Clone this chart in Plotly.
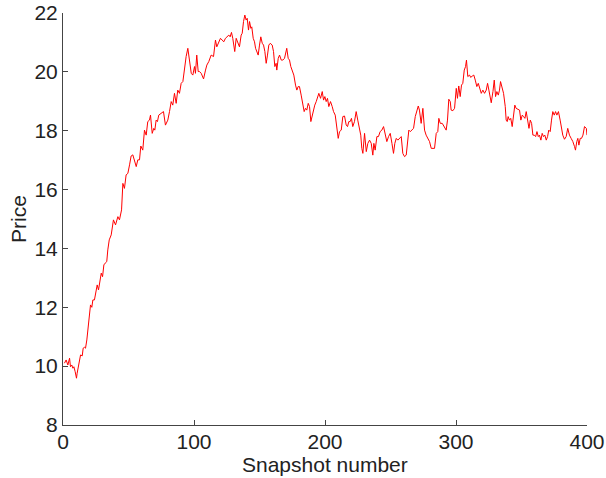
import plotly.graph_objects as go

# Snapshot numbers and prices, in five segments
snap_a = [1.1, 2.4, 3.7, 5.0, 5.7, 6.7, 7.5, 8.3, 9.3, 10.3, 10.8, 11.8, 13.4, 14.7, 15.4, 16.4, 17.2,
          18.2, 19.0, 20.0, 21.0, 22.0, 22.8, 24.0, 25.3, 26.1, 27.1, 28.1, 29.2, 30.2, 31.2, 32.2,
          33.4, 34.2, 35.3]
price_a = [10.10, 10.21, 10.04, 10.27, 9.98, 10.04, 9.93, 9.98, 9.81, 9.59, 9.76, 9.98, 10.38, 10.35,
           10.61, 10.64, 10.61, 10.89, 11.23, 11.68, 12.08, 12.00, 12.25, 12.25, 12.53, 12.76, 12.59,
           12.93, 13.16, 13.04, 13.44, 13.50, 13.55, 13.95, 14.29]

snap_b = [36.8, 38.5, 40.1, 41.9, 43.1, 44.7, 45.7, 46.9, 48.2, 49.5, 50.8, 52.0, 53.3, 54.6, 55.9,
          57.1, 58.4, 59.4, 60.9, 62.2, 63.5, 64.7, 66.0, 66.8, 68.1, 69.3, 70.1, 71.1, 72.1, 73.1,
          75.0, 76.7, 78.2, 80.0, 81.3, 82.6, 83.8, 85.1, 86.4, 87.6, 88.9, 90.2, 91.5, 92.7, 94.0,
          95.3, 96.6, 97.9, 99.1, 100.4, 101.1, 102.1, 103.2]
price_b = [14.46, 14.97, 14.80, 15.08, 14.97, 15.31, 16.21, 16.04, 16.50, 16.55, 16.84, 17.14, 17.18,
           17.01, 16.78, 17.01, 17.01, 17.48, 17.34, 18.02, 17.85, 18.31, 18.36, 18.53, 17.91, 18.08,
           18.02, 18.36, 18.31, 18.53, 18.59, 18.65, 18.19, 18.36, 18.65, 18.99, 18.87, 19.27, 18.93,
           19.38, 19.27, 19.61, 19.67, 20.18, 20.52, 20.80, 20.40, 19.95, 19.89, 20.18, 19.95, 20.57,
           20.01]

snap_c = [104.2, 105.5, 107.3, 108.8, 109.8, 111.3, 113.1, 114.9, 116.4, 117.4, 118.9, 120.2, 121.5,
          122.7, 124.0, 125.3, 126.6, 127.6, 128.6, 129.6, 131.1, 132.2, 133.4, 134.7, 136.0, 136.8,
          137.8, 138.8, 139.8, 140.6, 141.6, 142.4, 143.4, 144.1, 145.2, 146.2, 147.0, 148.0, 149.0,
          150.0, 151.0, 152.1, 153.1, 154.1, 155.1, 156.1, 157.1, 158.2, 159.7, 160.7, 161.7, 162.7,
          163.2, 164.3, 165.3, 166.6, 167.8, 169.1, 169.8, 170.8, 171.9, 172.9, 173.9, 175.0, 176.2,
          177.5, 178.5, 179.5, 180.5, 181.8, 183.1, 184.1, 185.1, 186.1, 187.2, 188.2, 189.2, 190.2,
          191.2, 192.2, 193.3, 194.3, 195.3]
price_c = [20.01, 19.95, 19.76, 20.06, 20.23, 20.35, 20.57, 20.52, 21.08, 20.85, 21.02, 21.14, 21.08,
           21.02, 21.14, 21.19, 21.25, 21.19, 21.34, 21.14, 20.69, 21.14, 21.02, 20.85, 21.25, 21.31,
           21.71, 21.93, 21.76, 21.82, 21.42, 21.71, 21.48, 21.53, 21.14, 21.02, 20.80, 20.69, 20.57,
           20.91, 21.19, 20.97, 20.91, 20.69, 20.29, 20.57, 20.91, 20.97, 20.91, 20.69, 20.18, 20.29,
           20.06, 20.46, 20.57, 20.40, 20.40, 20.46, 20.57, 20.80, 20.46, 20.40, 20.18, 20.01, 19.89,
           19.55, 19.38, 19.50, 19.50, 19.21, 18.87, 18.65, 18.76, 18.70, 18.93, 18.82, 18.31, 18.53,
           18.70, 18.87, 18.99, 19.10, 19.27]

snap_d = [196.6, 197.9, 198.9, 199.9, 200.9, 201.9, 202.9, 204.2, 205.5, 206.5, 207.8, 209.0, 210.1,
          211.1, 212.4, 213.6, 214.9, 216.2, 217.2, 218.2, 219.2, 220.2, 221.2, 222.5, 223.8, 225.0,
          226.3, 227.3, 228.1, 228.9, 230.2, 231.5, 232.7, 234.0, 235.3, 236.5, 237.3, 238.3, 239.6,
          240.8, 242.1, 243.4, 244.7, 246.0, 247.2, 248.5, 249.8, 251.1, 252.3, 253.3, 254.4, 255.6,
          256.9, 258.2, 259.4, 260.7, 262.0, 263.0, 264.0, 265.1, 266.3, 267.6, 268.9, 270.2, 271.2,
          272.1, 273.4, 274.7, 276.0, 277.2, 278.5, 279.8, 281.1, 282.3, 283.6, 284.9, 286.1, 286.9,
          288.0, 289.5, 291.0, 292.5, 293.5, 294.5]
price_d = [19.10, 19.33, 19.04, 19.16, 18.99, 19.10, 18.82, 18.99, 18.82, 18.65, 18.53, 18.08, 17.74,
           17.97, 18.02, 18.48, 18.50, 18.19, 18.14, 18.31, 18.31, 18.42, 18.14, 18.31, 18.65, 18.36,
           18.08, 17.85, 17.40, 17.23, 17.91, 17.29, 17.57, 17.68, 17.57, 17.17, 17.57, 17.34, 17.80,
           17.80, 17.97, 18.02, 18.14, 17.85, 17.63, 17.80, 17.91, 17.57, 17.23, 17.57, 17.74, 17.68,
           17.74, 17.80, 17.23, 17.12, 17.17, 17.68, 18.02, 17.97, 18.02, 18.08, 18.48, 18.65, 18.84,
           18.70, 18.25, 18.76, 18.02, 17.85, 17.74, 17.63, 17.40, 17.40, 17.40, 17.91, 17.97, 18.42,
           18.25, 18.25, 18.14, 18.02, 18.36, 19.07]

snap_e = [295.6, 296.3, 297.6, 298.9, 300.2, 301.1, 302.1, 303.2, 304.2, 305.2, 306.3, 307.3, 308.0,
          309.0, 310.3, 311.3, 312.4, 313.6, 314.7, 315.9, 317.0, 318.0, 319.3, 320.5, 321.8, 323.1,
          324.1, 325.1, 326.1, 326.9, 328.2, 329.2, 330.2, 331.2, 332.3, 333.2, 334.0, 335.0, 336.3,
          337.6, 338.3, 339.1, 339.8, 340.8, 341.8, 342.9, 343.9, 344.9, 345.9, 347.2, 348.5, 349.5,
          350.6, 351.6, 352.6, 353.6, 354.7, 355.7, 356.7, 357.7, 358.7, 359.8, 360.8, 361.8, 362.8,
          363.7, 364.8, 365.8, 366.8, 367.8, 368.9, 369.9, 370.8, 371.9, 372.9, 373.9, 375.0, 376.0,
          377.0, 378.2, 379.5, 380.5, 381.5, 382.8, 384.1, 385.3, 386.6, 387.9, 389.2, 390.5, 391.2,
          392.2, 393.0, 393.8, 394.8, 395.8, 396.9, 398.1, 399.5, 400.0]
price_e = [18.99, 18.70, 18.68, 18.76, 19.44, 19.10, 19.52, 19.16, 19.55, 19.61, 20.06, 20.18, 20.40,
           19.84, 19.89, 19.81, 19.86, 19.89, 19.72, 19.50, 19.61, 19.44, 19.27, 19.38, 19.27, 19.38,
           19.61, 19.38, 19.16, 18.95, 19.33, 19.72, 19.16, 19.33, 19.21, 19.38, 19.67, 19.50, 19.27,
           18.82, 18.36, 18.31, 18.48, 18.36, 18.42, 18.14, 18.59, 18.87, 18.76, 18.73, 18.70, 18.36,
           18.53, 18.48, 18.42, 18.65, 18.31, 18.08, 18.36, 18.25, 17.85, 17.85, 17.80, 17.97, 17.80,
           17.85, 17.68, 17.91, 17.80, 17.85, 17.68, 17.80, 18.02, 17.97, 18.36, 18.65, 18.53, 18.65,
           18.53, 18.65, 18.36, 18.14, 17.85, 17.71, 17.80, 18.08, 17.85, 17.74, 17.63, 17.46, 17.34,
           17.63, 17.74, 17.51, 17.74, 17.74, 17.85, 18.14, 18.08, 17.85]

x_ticks = [0, 100, 200, 300, 400]
y_ticks = [8, 10, 12, 14, 16, 18, 20, 22]
x_title = "Snapshot number"
y_title = "Price"

snapshots = snap_a + snap_b + snap_c + snap_d + snap_e
prices = price_a + price_b + price_c + price_d + price_e

fig = go.Figure(go.Scatter(x=snapshots, y=prices, mode="lines",
                           line=dict(color="#ff0000", width=1)))

font = dict(family="Liberation Sans, Arial, sans-serif", size=21, color="#222222")
axis_common = dict(showline=True, linecolor="#444444", linewidth=1, mirror=False,
                   ticks="inside", ticklen=5, tickcolor="#444444", tickwidth=1,
                   showgrid=False, zeroline=False, tickfont=font, automargin=False)

fig.update_layout(
    width=606, height=478,
    margin=dict(l=63, r=19, t=13, b=53),
    plot_bgcolor="white", paper_bgcolor="white",
    showlegend=False,
    font=font,
    xaxis=dict(range=[0, 400], tickvals=x_ticks, ticklabelstandoff=-2, **axis_common),
    yaxis=dict(range=[8, 22], tickvals=y_ticks,
               title=dict(text=y_title, font=font, standoff=2), **axis_common),
)

fig.add_annotation(text=x_title, xref="paper", yref="paper", x=0.5, y=-0.0947,
                   xanchor="center", yanchor="middle", showarrow=False, font=font,
                   borderpad=0)

fig.write_html("out.html")
